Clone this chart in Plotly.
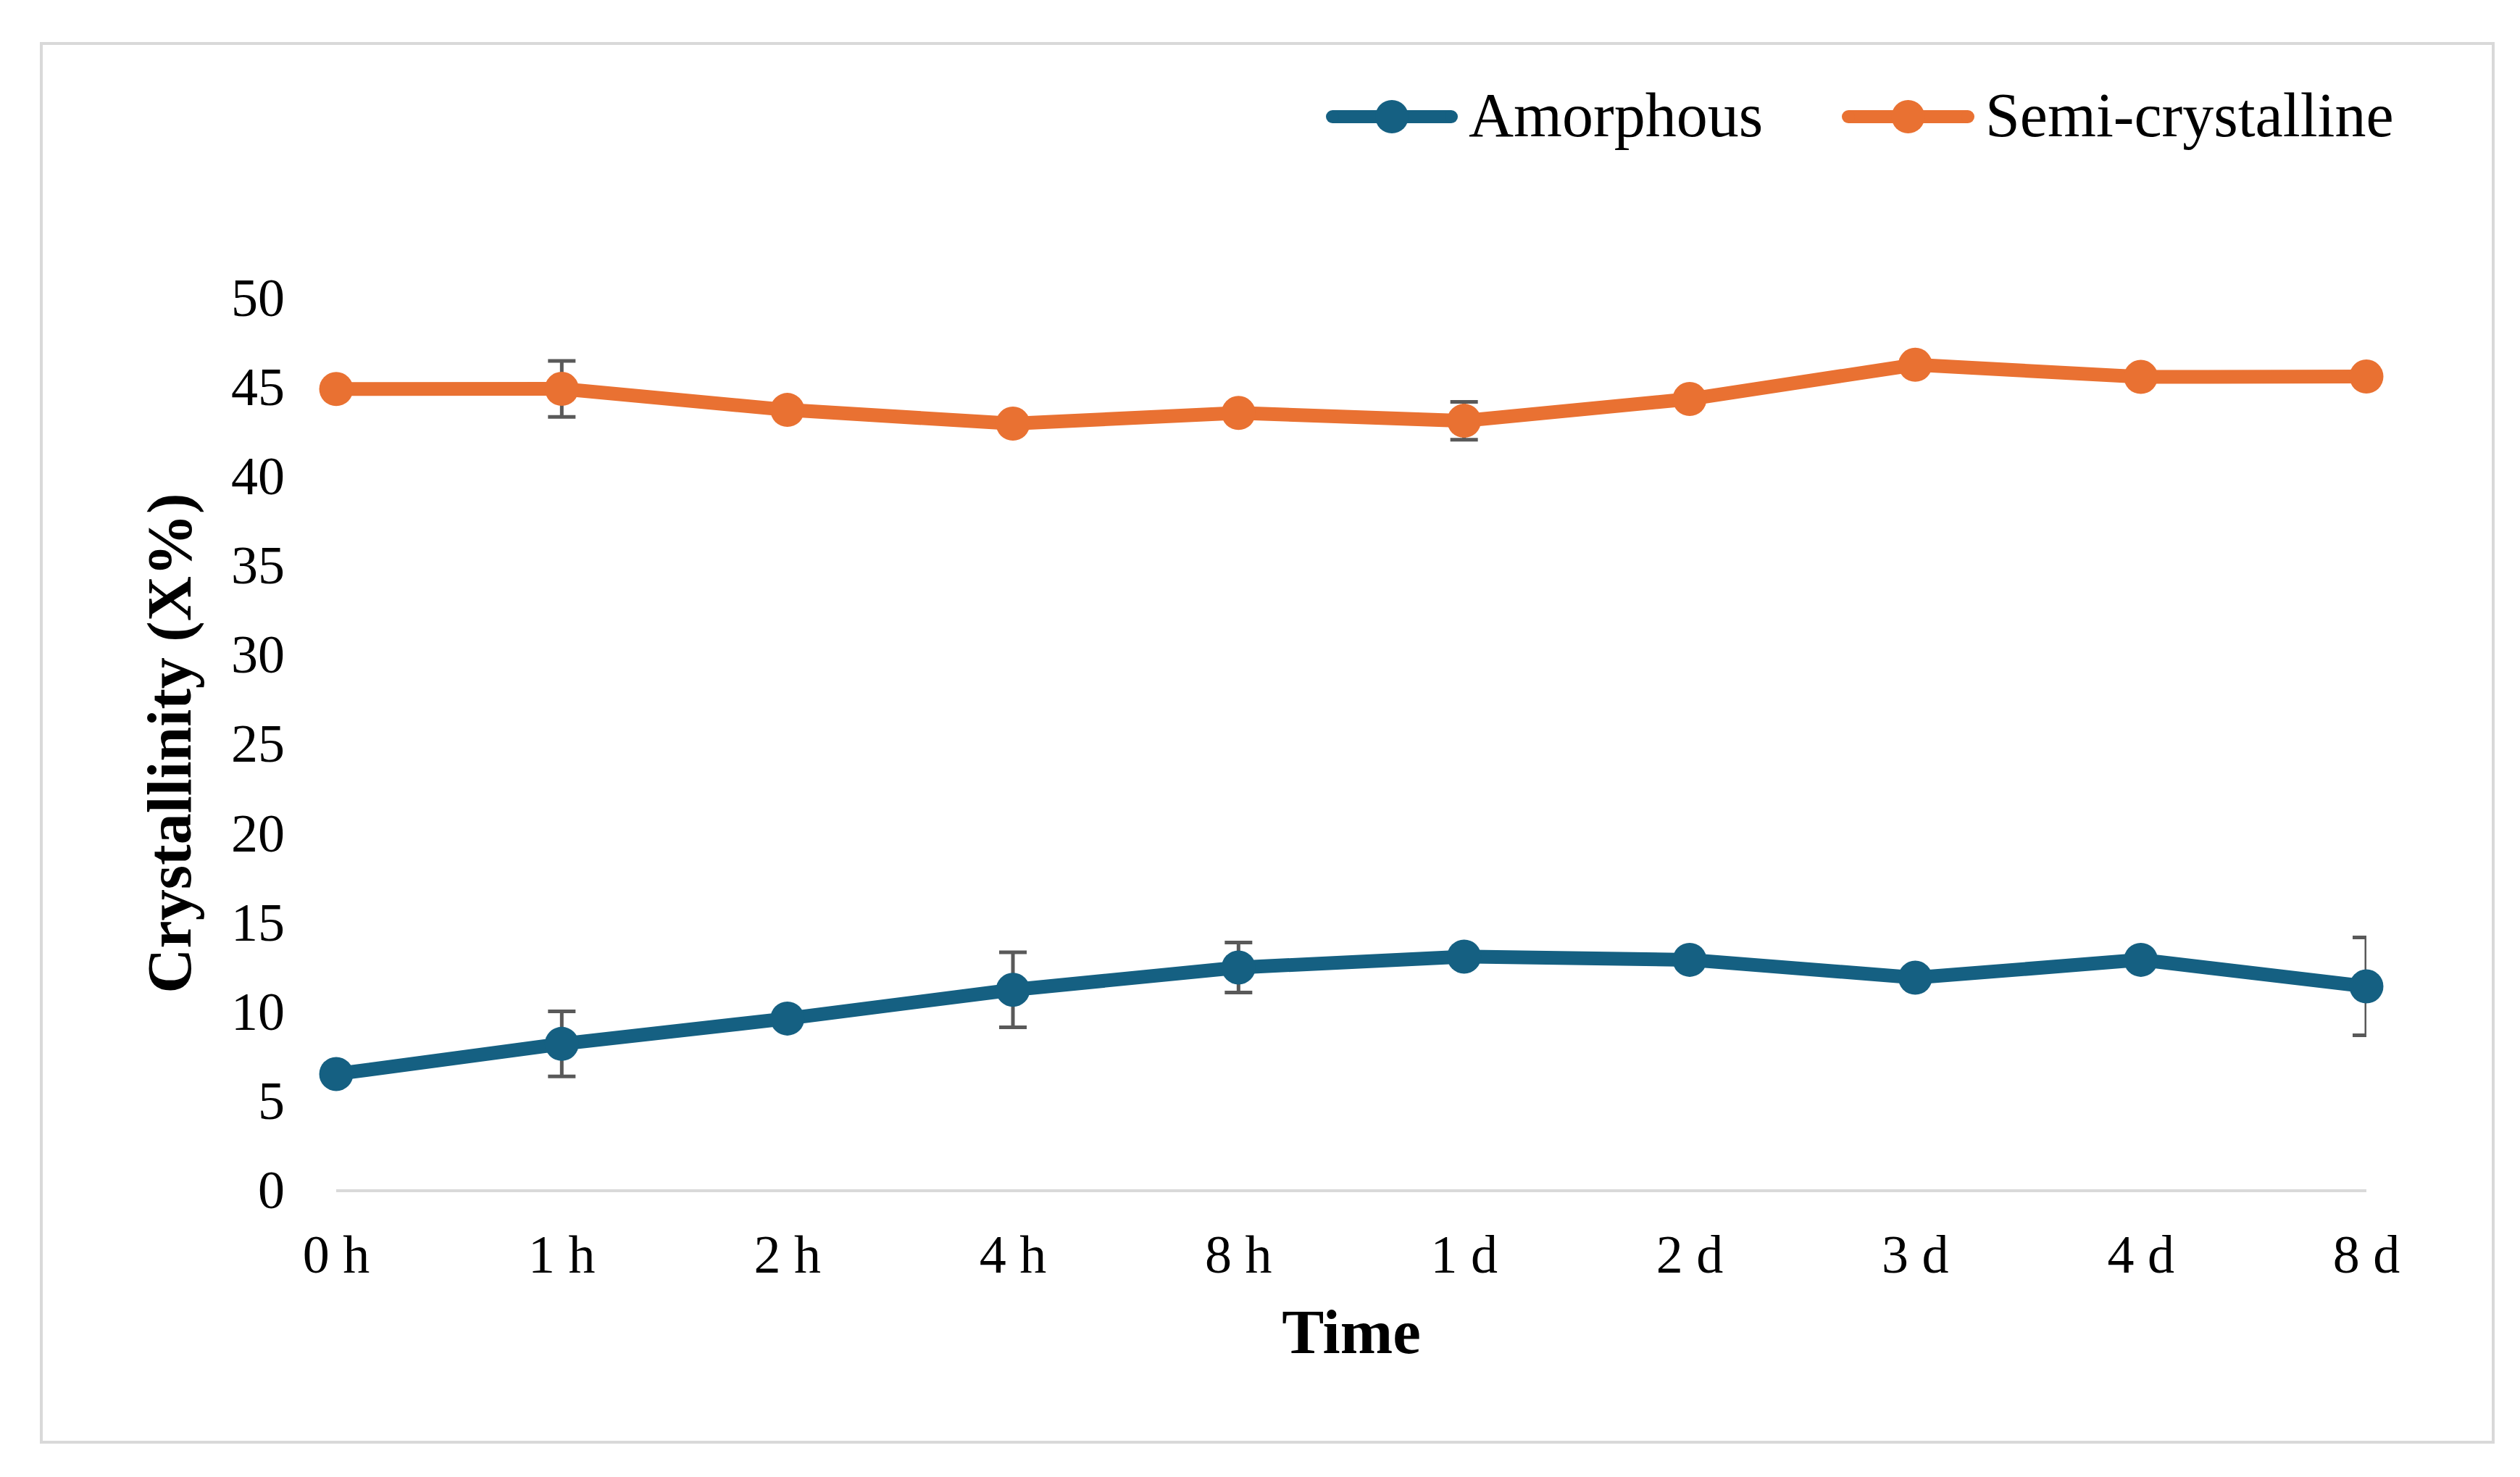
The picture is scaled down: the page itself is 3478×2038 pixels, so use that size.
import plotly.graph_objects as go

categories = ["0 h", "1 h", "2 h", "4 h", "8 h", "1 d", "2 d", "3 d", "4 d", "8 d"]
amorphous = [6.46, 8.15, 9.57, 11.18, 12.43, 13.04, 12.86, 11.86, 12.86, 11.37]
amorphous_err = [None, 1.82, None, 2.1, 1.4, None, None, None, None, 2.74]
semi = [44.85, 44.86, 43.68, 42.91, 43.51, 43.07, 44.29, 46.21, 45.53, 45.55]
semi_err = [None, 1.57, None, None, None, 1.06, None, None, None, None]
y_ticks = [0, 5, 10, 15, 20, 25, 30, 35, 40, 45, 50]
series_names = ["Amorphous", "Semi-crystalline"]

BLUE = "#156082"
ORANGE = "#E97132"
ERR = "#595959"
FONT = "Liberation Serif"

W, H = 3478, 2038
ML, MR, MT, MB = 456, 220, 402, 405
PW, PH = W - ML - MR, H - MT - MB


def px(x):
    return (x - ML) / PW


def py(y):
    return (H - MB - y) / PH


fig = go.Figure()
for name, vals, errs, col in [
    (series_names[0], amorphous, amorphous_err, BLUE),
    (series_names[1], semi, semi_err, ORANGE),
]:
    fig.add_trace(go.Scatter(
        x=list(range(len(categories))), y=vals, name=name, mode="lines+markers",
        line=dict(color=col, width=19),
        marker=dict(color=col, size=47),
        error_y=dict(type="data", array=errs, visible=True, color=ERR,
                     thickness=5, width=19),
        cliponaxis=False, showlegend=False,
    ))

fig.update_layout(
    width=W, height=H,
    margin=dict(l=ML, r=MR, t=MT, b=MB),
    paper_bgcolor="white", plot_bgcolor="white",
    font=dict(family=FONT, color="black", size=74),
    showlegend=False,
    xaxis=dict(
        range=[0, len(categories) - 1], tickmode="array",
        tickvals=list(range(len(categories))), ticktext=categories,
        showgrid=False, zeroline=False, showline=True, linecolor="#D9D9D9", linewidth=4,
        ticks="", ticklabelstandoff=22,
        tickfont=dict(family=FONT, size=74),
        title=dict(text="<b>Time</b>", font=dict(family=FONT, size=87), standoff=36),
    ),
    yaxis=dict(
        range=[0, 50], tickmode="array", tickvals=y_ticks,
        showgrid=False, zeroline=False, showline=False, ticks="",
        ticklabelstandoff=70,
        tickfont=dict(family=FONT, size=74),
        title=dict(text="<b>Crystallinity (X%)</b>", font=dict(family=FONT, size=86), standoff=26),
    ),
)

# outer chart border
fig.add_shape(type="rect", xref="paper", yref="paper",
              x0=px(49), x1=px(3433), y0=py(1982), y1=py(52),
              line=dict(color="#D9D9D9", width=4), fillcolor="rgba(0,0,0,0)", layer="below")

# legend (drawn manually so the symbols match the chart's size)
leg_y = 153
leg_items = [(series_names[0], BLUE, 1822, 2004, 2017),
             (series_names[1], ORANGE, 2534, 2717, 2730)]
lw = 18
for name, col, lx0, lx1, tx in leg_items:
    fig.add_shape(type="line", xref="paper", yref="paper",
                  x0=px(lx0 + lw / 2), x1=px(lx1 - lw / 2), y0=py(leg_y), y1=py(leg_y),
                  line=dict(color=col, width=lw))
    for cx in (lx0 + lw / 2, lx1 - lw / 2):
        fig.add_shape(type="circle", xref="paper", yref="paper",
                      x0=px(cx - lw / 2), x1=px(cx + lw / 2),
                      y0=py(leg_y + lw / 2), y1=py(leg_y - lw / 2),
                      line=dict(width=0), fillcolor=col)
    mx = (lx0 + lx1) / 2
    fig.add_shape(type="circle", xref="paper", yref="paper",
                  x0=px(mx - 23), x1=px(mx + 23), y0=py(leg_y + 23), y1=py(leg_y - 23),
                  line=dict(width=0), fillcolor=col)
    fig.add_annotation(text=name, xref="paper", yref="paper", x=px(tx), y=py(151),
                       xanchor="left", yanchor="middle", showarrow=False,
                       font=dict(family=FONT, size=86, color="black"))

fig.write_html("out.html")
